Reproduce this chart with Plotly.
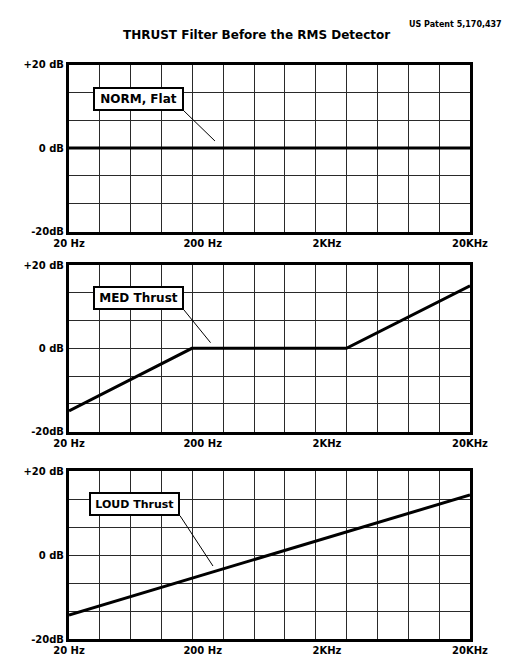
import plotly.graph_objects as go
import numpy as np

# ---- data ----
freq_norm = [20, 20000]
gain_norm = [0, 0]
freq_med = [20, 166, 2380, 20000]
gain_med = [-15, 0, 0, 15]
freq_loud = [20, 20000]
gain_loud = [-14.3, 14.3]

panel_labels = ["NORM, Flat", "MED Thrust", "LOUD Thrust"]
x_tick_vals = [20, 200, 1700, 20000]
x_tick_text = ["20 Hz", "200 Hz", "2KHz", "20KHz"]
y_tick_vals = [-20, 0, 20]
y_tick_text = ["-20dB", "0 dB", "+20 dB"]

title_text = "THRUST Filter Before the RMS Detector"
patent_text = "US Patent 5,170,437"

FONT = "DejaVu Sans"
W, H = 514, 665

# layout geometry (pixels)
x_left, x_right = 69, 470
panels_px = [(64.5, 231.7), (265, 431.7), (471, 639)]

# grid: 13 columns, 6 rows
n_cols = 13
lo, hi = np.log10(20), np.log10(20000)
x_minor = [10 ** (lo + (hi - lo) * k / n_cols) for k in range(1, n_cols)]
y_minor = [-40 / 3, -20 / 3, 20 / 3, 40 / 3]

fig = go.Figure()
series = [(freq_norm, gain_norm), (freq_med, gain_med), (freq_loud, gain_loud)]
for i, (fx, gy) in enumerate(series):
    sfx = "" if i == 0 else str(i + 1)
    fig.add_trace(go.Scatter(x=fx, y=gy, mode="lines",
                             line=dict(color="black", width=3),
                             xaxis="x" + sfx, yaxis="y" + sfx,
                             hoverinfo="skip", showlegend=False))

layout = dict(width=W, height=H, margin=dict(l=0, r=0, t=0, b=0, autoexpand=False),
              paper_bgcolor="white", plot_bgcolor="white", showlegend=False)

xd = [x_left / W, x_right / W]
for i, (top, bot) in enumerate(panels_px):
    sfx = "" if i == 0 else str(i + 1)
    yd = [(H - bot) / H, (H - top) / H]
    layout["xaxis" + sfx] = dict(
        type="log", range=[lo, hi], domain=xd, anchor="y" + sfx,
        automargin=False,
        tickmode="array", tickvals=x_tick_vals, ticktext=x_tick_text,
        showgrid=False, zeroline=False, ticks="",
        showline=True, mirror=True, linecolor="black", linewidth=3,
        tickfont=dict(family=FONT, size=10, color="black", weight="bold"),
        minor=dict(tickmode="array", tickvals=x_minor, showgrid=True,
                   gridcolor="#2a2a2a", gridwidth=1, ticks=""),
        fixedrange=True)
    layout["yaxis" + sfx] = dict(
        range=[-20, 20], domain=yd, anchor="x" + sfx,
        automargin=False,
        tickmode="array", tickvals=y_tick_vals, ticktext=y_tick_text,
        showgrid=True, gridcolor="#2a2a2a", gridwidth=1, zeroline=False,
        ticks="", showline=True, mirror=True, linecolor="black", linewidth=3,
        tickfont=dict(family=FONT, size=10, color="black", weight="bold"),
        minor=dict(tickmode="array", tickvals=y_minor, showgrid=True,
                   gridcolor="#2a2a2a", gridwidth=1, ticks=""),
        fixedrange=True)

# callouts: box bottom-right corner and leader end point (domain fractions)
callouts = [
    (0.2868, 0.722, 0.364, 0.5425, 12),
    (0.2868, 0.730, 0.353, 0.534, 12),
    (0.2768, 0.734, 0.359, 0.4345, 11),
]
annotations = []
shapes = []
for i, (cx, cy, px, py, fs) in enumerate(callouts):
    sfx = "" if i == 0 else str(i + 1)
    xr, yr = "x" + sfx + " domain", "y" + sfx + " domain"
    annotations.append(dict(
        x=cx, y=cy, xref=xr, yref=yr, xanchor="right", yanchor="bottom",
        text=panel_labels[i], showarrow=False, width=85, height=18,
        align="center", valign="middle",
        font=dict(family=FONT, size=fs, color="black", weight="bold"),
        bgcolor="white", bordercolor="black", borderwidth=2, borderpad=1))
    shapes.append(dict(type="line", xref=xr, yref=yr, x0=cx, y0=cy, x1=px, y1=py,
                       line=dict(color="black", width=1)))

annotations.append(dict(x=256.7 / W, y=1 - 34.5 / H, xref="paper", yref="paper",
                        xanchor="center", yanchor="middle", text=title_text,
                        showarrow=False,
                        font=dict(family=FONT, size=12, color="black", weight="bold")))
annotations.append(dict(x=455 / W, y=1 - 24.5 / H, xref="paper", yref="paper",
                        xanchor="center", yanchor="middle", text=patent_text,
                        showarrow=False,
                        font=dict(family=FONT, size=8, color="black", weight="bold")))

layout["annotations"] = annotations
layout["shapes"] = shapes
fig.update_layout(**layout)
fig.write_html("out.html", config={"displayModeBar": False},
               post_script="document.body.style.margin='0';document.body.style.overflow='hidden';")
